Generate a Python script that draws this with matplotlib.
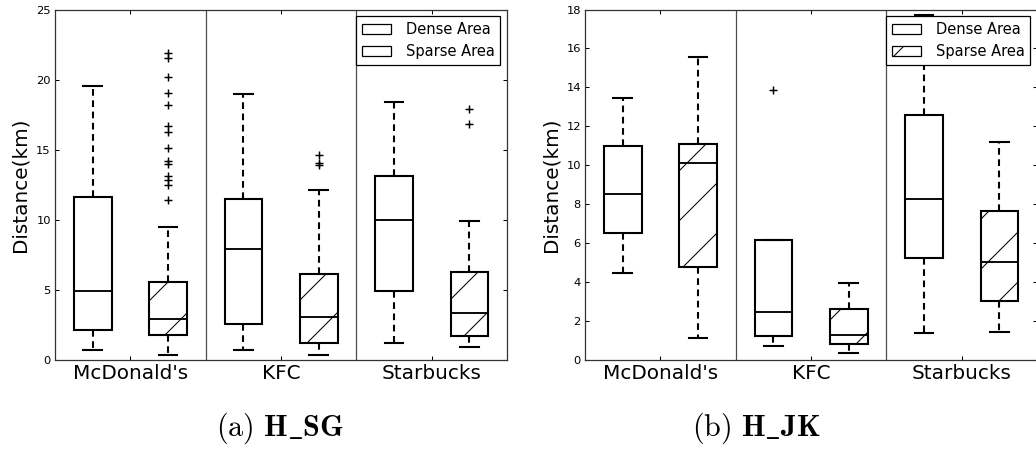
import matplotlib
matplotlib.use('Agg')
import matplotlib.pyplot as plt
from matplotlib.patches import Patch

plt.rcParams['font.family'] = 'DejaVu Sans'
plt.rcParams['mathtext.fontset'] = 'cm'
plt.rcParams['hatch.linewidth'] = 0.5

brands = ["McDonald's", "KFC", "Starbucks"]
area_labels = ["Dense Area", "Sparse Area"]

# five-number summaries per brand: [whisker low, q1, median, q3, whisker high] (km)
sg_dense = [[0.71, 2.14, 4.90, 11.60, 19.56],
            [0.69, 2.59, 7.89, 11.45, 19.01],
            [1.21, 4.90, 10.00, 13.12, 18.42]]
sg_sparse = [[0.33, 1.76, 2.90, 5.56, 9.50],
             [0.33, 1.19, 3.04, 6.15, 12.10],
             [0.93, 1.71, 3.37, 6.25, 9.93]]
sg_dense_fliers = [[], [], []]
sg_sparse_fliers = [[21.92, 21.52, 20.21, 19.02, 18.19, 16.69, 16.28, 15.10,
                     14.22, 13.98, 13.12, 12.84, 12.48, 11.41],
                    [14.59, 14.02, 13.88],
                    [17.92, 16.80]]

jk_dense = [[4.48, 6.50, 8.52, 10.99, 13.47],
            [0.70, 1.21, 2.48, 6.18, 6.18],
            [1.40, 5.24, 8.28, 12.58, 17.71]]
jk_sparse = [[1.13, 4.76, 10.11, 11.09, 15.57],
             [0.34, 0.82, 1.30, 2.62, 3.94],
             [1.44, 3.05, 5.03, 7.65, 11.19]]
jk_dense_fliers = [[], [13.89], []]
jk_sparse_fliers = [[], [], []]


def to_stats(rows, fliers):
    return [dict(whislo=r[0], q1=r[1], med=r[2], q3=r[3], whishi=r[4], fliers=f)
            for r, f in zip(rows, fliers)]


def draw_panel(ax, dense, sparse, dense_fl, sparse_fl, ymax, ystep):
    stats = to_stats(dense, dense_fl) + to_stats(sparse, sparse_fl)
    pos = [i + 0.25 for i in range(3)] + [i + 0.75 for i in range(3)]
    bp = ax.bxp(stats, positions=pos, widths=0.25, patch_artist=True,
                manage_ticks=False,
                boxprops=dict(facecolor='white', edgecolor='black', linewidth=1.0),
                medianprops=dict(color='black', linewidth=0.9),
                whiskerprops=dict(color='black', linewidth=1.0, linestyle=(0, (3.2, 2.2))),
                capprops=dict(color='black', linewidth=1.0),
                flierprops=dict(marker='+', markeredgecolor='black', markersize=3.8,
                                markeredgewidth=0.7, linestyle='none'))
    for box in bp['boxes'][3:]:
        box.set_hatch('/')

    # group separators
    for x in (1, 2):
        ax.axvline(x, color='0.3', linewidth=0.6, zorder=0.5)

    ax.set_xlim(0, 3)
    ax.set_ylim(0, ymax)
    ax.set_xticks([0.5, 1.5, 2.5])
    ax.set_xticklabels(brands, fontsize=9.6)
    ax.set_yticks(range(0, ymax + 1, ystep))
    ax.tick_params(axis='y', labelsize=5.5, pad=2)
    ax.tick_params(axis='x', pad=2)
    ax.tick_params(direction='in', top=True, right=True, length=2, width=0.5)
    for sp in ax.spines.values():
        sp.set_linewidth(0.6)
        sp.set_color('0.2')
    ax.set_ylabel('Distance(km)', fontsize=9.6, labelpad=3)

    handles = [Patch(facecolor='white', edgecolor='black', linewidth=0.6),
               Patch(facecolor='white', edgecolor='black', linewidth=0.6, hatch='/')]
    leg = ax.legend(handles, area_labels, loc='upper right', fontsize=7,
                    fancybox=False, framealpha=1, edgecolor='black',
                    handletextpad=1.0, borderaxespad=0.45)
    leg.get_frame().set_linewidth(0.6)


fig = plt.figure(figsize=(1036 / 150, 456 / 150), dpi=150)
ax1 = fig.add_axes([0.0531, 0.2105, 0.4363, 0.7686])
ax2 = fig.add_axes([0.5647, 0.2105, 0.4363, 0.7686])

draw_panel(ax1, sg_dense, sg_sparse, sg_dense_fliers, sg_sparse_fliers, 25, 5)
draw_panel(ax2, jk_dense, jk_sparse, jk_dense_fliers, jk_sparse_fliers, 18, 2)

fig.text(0.270, 0.061, r'$\mathrm{(a)}\ \mathbf{H\_SG}$', ha='center', va='center', fontsize=14.5)
fig.text(0.730, 0.061, r'$\mathrm{(b)}\ \mathbf{H\_JK}$', ha='center', va='center', fontsize=14.5)

fig.savefig('out.png', dpi=150)
